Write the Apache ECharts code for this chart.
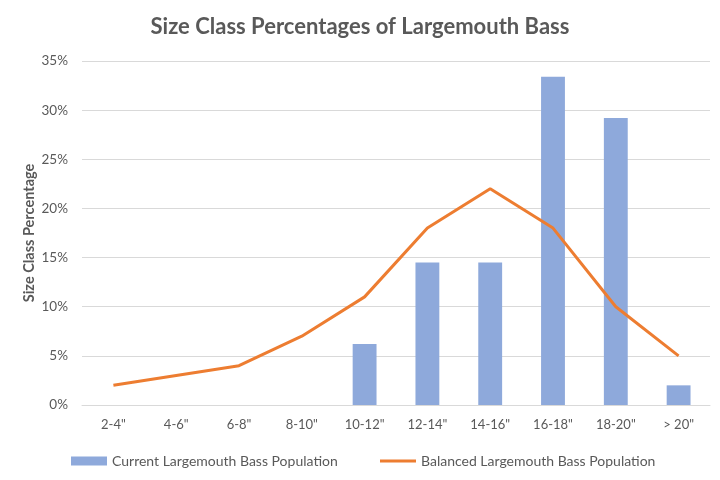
<!DOCTYPE html>
<html><head><meta charset="utf-8">
<script src="https://cdn.jsdelivr.net/npm/echarts@6/dist/echarts.min.js"></script>
<style>html,body{margin:0;padding:0;background:#fff}#c{width:720px;height:480px}</style>
</head><body><div id="c"></div>
<script>
var categories = ['2-4"', '4-6"', '6-8"', '8-10"', '10-12"', '12-14"', '14-16"', '16-18"', '18-20"', '> 20"'];
var currentPop = [null, null, null, null, 6.2, 14.5, 14.5, 33.4, 29.2, 2.0];
var balancedPop = [2, 3, 4, 7, 11, 18, 22, 18, 10, 5];
var seriesNames = ['Current Largemouth Bass Population', 'Balanced Largemouth Bass Population'];

var font = 'Lato, "Open Sans", sans-serif';
var gray = '#595959';
var chart = echarts.init(document.getElementById('c'));
chart.setOption({
  animation: false,
  textStyle: {fontFamily: font},
  title: {
    text: 'Size Class Percentages of Largemouth Bass',
    left: 'center', top: 11,
    textStyle: {fontFamily: font, fontSize: 22, fontWeight: 'bold', color: gray}
  },
  legend: [
    {data: [seriesNames[0]], left: 66, top: 449, itemWidth: 36, itemHeight: 9, icon: 'rect', itemGap: 4,
     textStyle: {fontFamily: font, fontSize: 14, color: gray}},
    {data: [seriesNames[1]], left: 375, top: 449, itemWidth: 36, itemHeight: 3, icon: 'rect',
     textStyle: {fontFamily: font, fontSize: 14, color: gray}}
  ],
  grid: {left: 82, right: 10, top: 61, bottom: 75},
  xAxis: {
    type: 'category', data: categories,
    axisLine: {lineStyle: {color: '#d9d9d9'}},
    axisTick: {show: false},
    axisLabel: {color: gray, fontSize: 13, margin: 13, fontFamily: font}
  },
  yAxis: {
    type: 'value', min: 0, max: 35, interval: 5,
    name: 'Size Class Percentage', nameLocation: 'middle', nameGap: 45, nameMoveOverlap: false,
    nameTextStyle: {color: gray, fontSize: 14.5, fontWeight: 'bold', fontFamily: font},
    axisLabel: {formatter: '{value}%', color: gray, fontSize: 13.5, margin: 14, fontFamily: font},
    splitLine: {lineStyle: {color: '#d9d9d9'}},
    axisLine: {show: false}, axisTick: {show: false}
  },
  series: [
    {name: seriesNames[0], type: 'bar', data: currentPop, barWidth: '38%',
     itemStyle: {color: '#8EA9DB'}},
    {name: seriesNames[1], type: 'line', data: balancedPop, symbol: 'none',
     lineStyle: {color: '#ED7D31', width: 3}, itemStyle: {color: '#ED7D31'}}
  ]
});
</script></body></html>
